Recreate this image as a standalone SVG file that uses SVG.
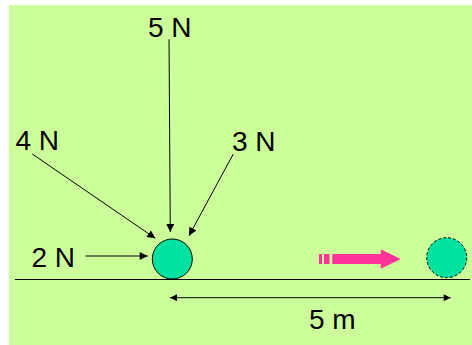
<svg xmlns="http://www.w3.org/2000/svg" width="472" height="345" viewBox="0 0 472 345">
<defs>
<style>
.lbl{font-family:"Liberation Sans",Arial,sans-serif;font-size:28px;fill:#000}
.f{stroke:#000;stroke-width:1;fill:none;marker-end:url(#ah)}
</style>
<marker id="ah" viewBox="0 0 10 10" refX="10" refY="5" markerUnits="userSpaceOnUse" markerWidth="11" markerHeight="8" orient="auto">
<path d="M0,0 L10,5 L0,10 Z" fill="#000"/>
</marker>
<marker id="dh" viewBox="0 0 10 10" refX="10" refY="5" markerUnits="userSpaceOnUse" markerWidth="9" markerHeight="7" orient="auto-start-reverse">
<path d="M0,0 L10,5 L0,10 Z" fill="#000"/>
</marker>
</defs>
<rect x="0" y="0" width="472" height="345" fill="#fff"/>
<rect x="9" y="5" width="463" height="340" fill="#CCFF99"/>
<line x1="15" y1="279.5" x2="470" y2="279.5" stroke="#000" stroke-width="1"/>
<g id="ball1"><circle cx="172.3" cy="259" r="20" fill="#00E3A0" stroke="#000" stroke-width="1"/></g>
<g id="ball2"><circle cx="446.7" cy="257.7" r="20" fill="#00E3A0" stroke="#000" stroke-width="1" stroke-dasharray="3,2"/></g>
<g id="motion">
<rect x="319" y="254" width="3" height="10" fill="#FF3399"/>
<rect x="324" y="254" width="5.5" height="10" fill="#FF3399"/>
<path d="M332.3,254 L380.7,254 L380.7,249.3 L400.7,259 L380.7,268.7 L380.7,264 L332.3,264 Z" fill="#FF3399"/>
</g>
<g id="labels">
<text id="l5N" class="lbl" x="148" y="36.7">5 N</text>
<text id="l4N" class="lbl" x="15.5" y="150">4 N</text>
<text id="l3N" class="lbl" x="232" y="150.7">3 N</text>
<text id="l2N" class="lbl" x="31.5" y="266.7">2 N</text>
<text id="l5m" class="lbl" x="309" y="329">5 m</text>
</g>
<g id="connectors">
<line class="f" x1="169" y1="39.3" x2="170.3" y2="232"/>
<line class="f" x1="32.3" y1="154" x2="155.3" y2="238.3"/>
<line class="f" x1="233.3" y1="154" x2="189" y2="235.7"/>
<line class="f" x1="85.7" y1="256" x2="147.7" y2="256"/>
<line x1="170" y1="297.7" x2="450.7" y2="297.7" stroke="#000" stroke-width="1" marker-start="url(#dh)" marker-end="url(#dh)"/>
</g>
</svg>
